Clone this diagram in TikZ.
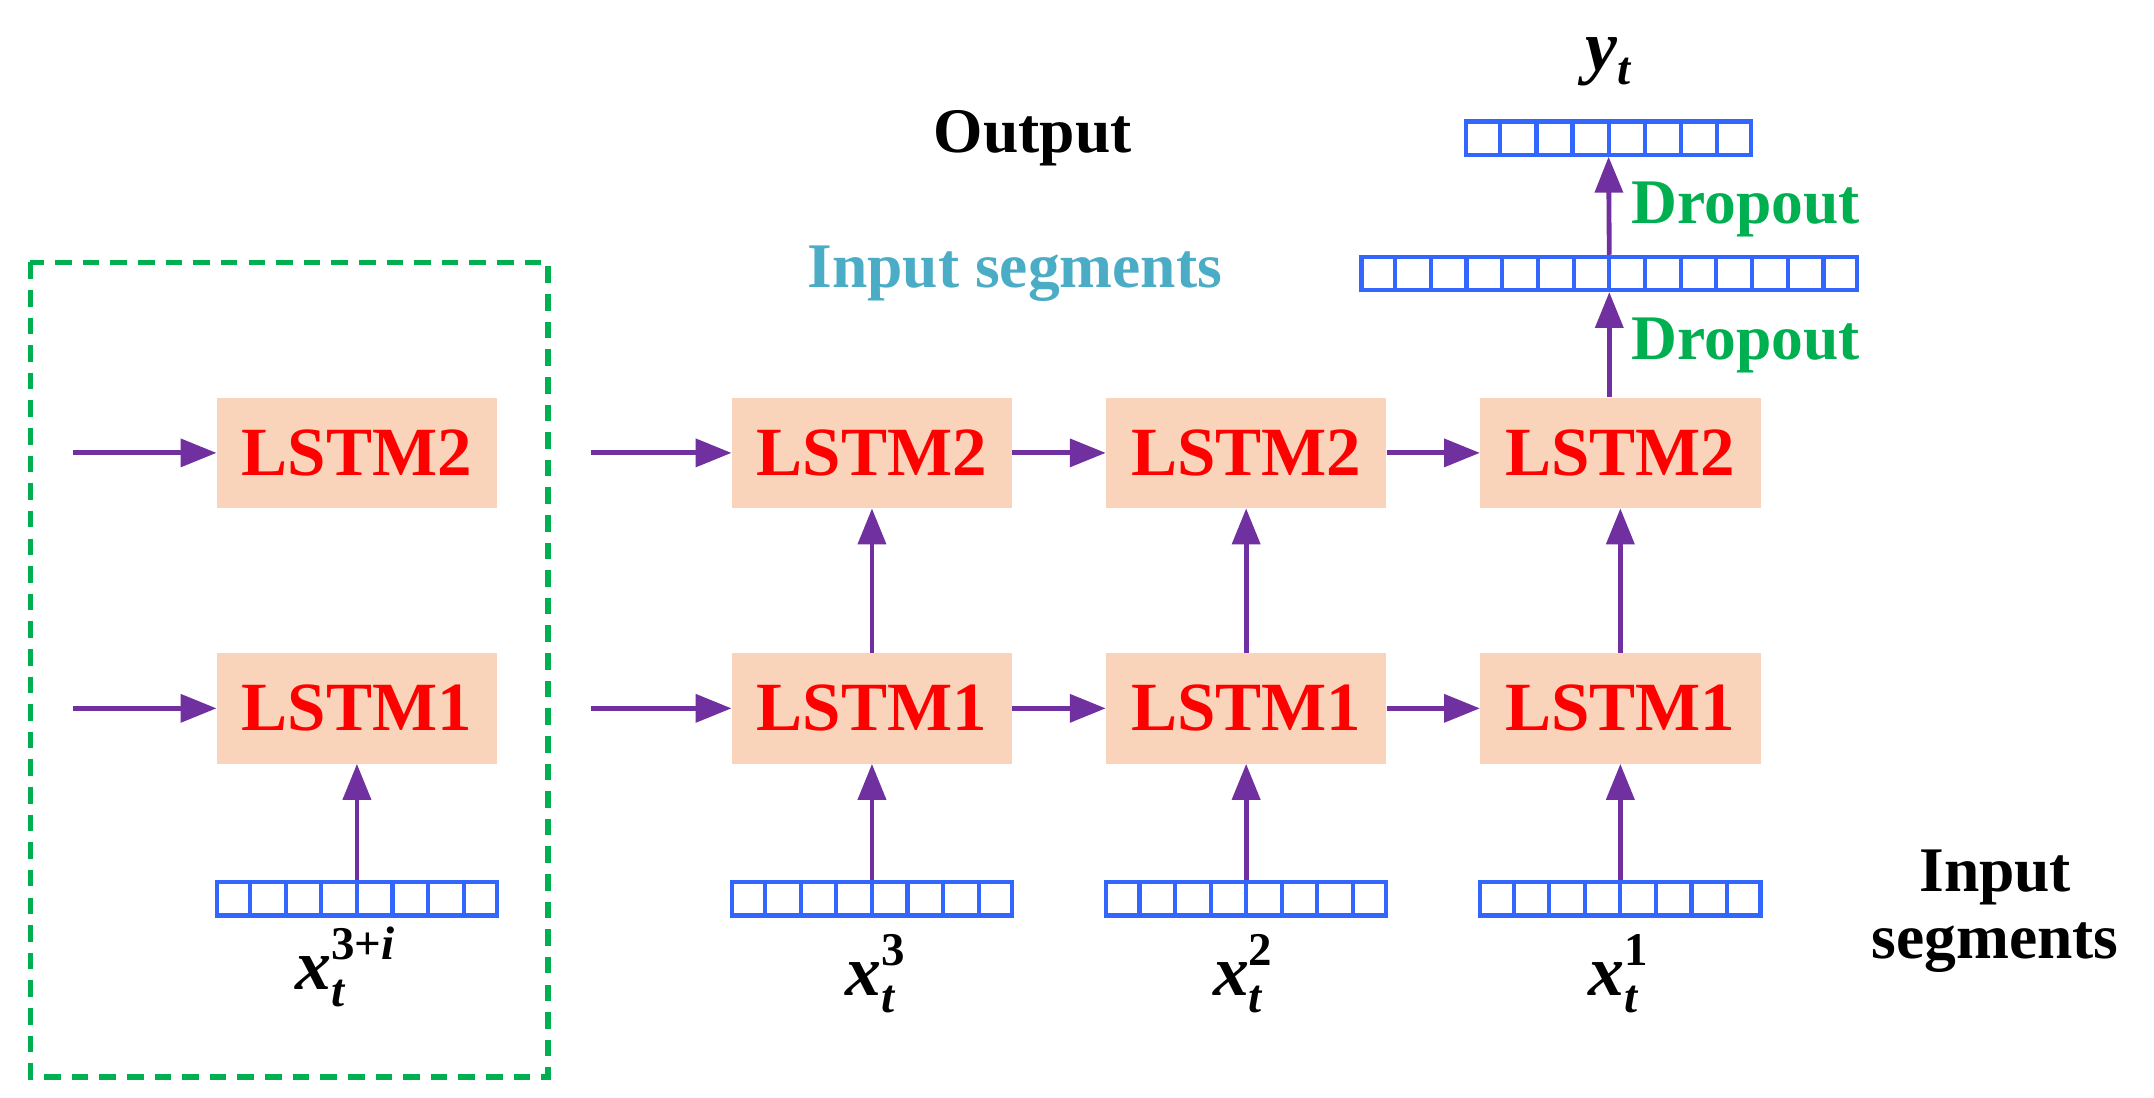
\documentclass[tikz,border=0pt]{standalone}
\usepackage{fontspec}
\setmainfont{Liberation Serif}
\usetikzlibrary{arrows.meta,calc}
\definecolor{peach}{HTML}{FAD4BA}
\definecolor{purp}{HTML}{7030A0}
\definecolor{vblue}{HTML}{3366FF}
\definecolor{grn}{HTML}{00B050}
\definecolor{cyn}{HTML}{4BACC6}
\newcommand{\xv}[2]{\textbf{\textit{#1}}\rlap{\raisebox{-12pt}{\fontsize{34}{36}\selectfont\textbf{\textit{t}}}}\raisebox{22pt}{\fontsize{34}{36}\selectfont\textbf{#2}}}
\begin{document}
\begin{tikzpicture}[x=1pt,y=-1pt,
  lstm/.style={fill=peach,minimum width=203pt,minimum height=80pt,inner sep=0pt,text=red,font=\bfseries\fontsize{50}{56}\selectfont},
  vec/.style={draw=vblue,line width=3pt,minimum height=24pt,inner sep=0pt},
  arr/.style={draw=purp,line width=3.5pt,-{Triangle[length=26pt,width=20pt]},fill=purp},
  lab/.style={font=\fontsize{52}{56}\selectfont},
  txt/.style={font=\bfseries\fontsize{46}{52}\selectfont}]
\useasboundingbox (0,0) rectangle (1560,795);
\draw[grn,line width=4pt,dash pattern=on 12pt off 8pt] (22,190) rectangle (397,780);
\foreach \n/\x in {a/258.5,b/631.5,c/902.5,d/1173.5}{
  \node[lstm] (\n2) at (\x,328) {LSTM2};
  \node[lstm] (\n1) at (\x,513) {LSTM1};
  \node[vec,minimum width=203pt] (\n0) at (\x,651) {};
  \foreach \k in {1,...,7} \draw[vblue,line width=3pt] ($(\n0.south west)!\k/8!(\n0.south east)$) -- ($(\n0.north west)!\k/8!(\n0.north east)$);
  \draw[arr] (\n0.north) -- (\n1.south);
}
\foreach \n in {b,c,d} \draw[arr] (\n1.north) -- (\n2.south);
\coordinate (s1) at (53,513); \coordinate (s2) at (53,328);
\coordinate (t1) at (428,513); \coordinate (t2) at (428,328);
\draw[arr] (s1) -- (a1.west); \draw[arr] (s2) -- (a2.west);
\draw[arr] (t1) -- (b1.west); \draw[arr] (t2) -- (b2.west);
\draw[arr] (b1) -- (c1); \draw[arr] (c1) -- (d1);
\draw[arr] (b2) -- (c2); \draw[arr] (c2) -- (d2);
\node[vec,minimum width=359pt] (w) at (1165.5,198) {};
\foreach \k in {1,...,13} \draw[vblue,line width=3pt] ($(w.south west)!\k/14!(w.south east)$) -- ($(w.north west)!\k/14!(w.north east)$);
\node[vec,minimum width=206pt] (o) at (1165,100) {};
\foreach \k in {1,...,7} \draw[vblue,line width=3pt] ($(o.south west)!\k/8!(o.south east)$) -- ($(o.north west)!\k/8!(o.north east)$);
\draw[arr] (d2.north-|w.south) -- (w.south);
\draw[arr] (w.north) -- (o.south);
\node[txt,text=grn,anchor=west] (d1t) at (1178,152) {Dropout};
\node[txt,text=grn,anchor=west] (d2t) at (1178,250) {Dropout};
\node[lab] (y) at (1165,45) {\textbf{\textit{y}}\raisebox{-10pt}{\fontsize{34}{36}\selectfont\textbf{\textit{t}}}};
\node[txt] (out) at (748,100) {Output};
\node[txt,text=cyn] (ins) at (735,198) {Input segments};
\node[txt,align=center] (ins2) at (1445,660) {Input\\[-4pt]segments};
\node[lab] (la) at (250,700) {\xv{x}{3+\textit{i}}};
\node[lab] (lb) at (634,705) {\xv{x}{3}};
\node[lab] (lc) at (900,705) {\xv{x}{2}};
\node[lab] (ld) at (1172,705) {\xv{x}{1}};
\end{tikzpicture}
\end{document}
